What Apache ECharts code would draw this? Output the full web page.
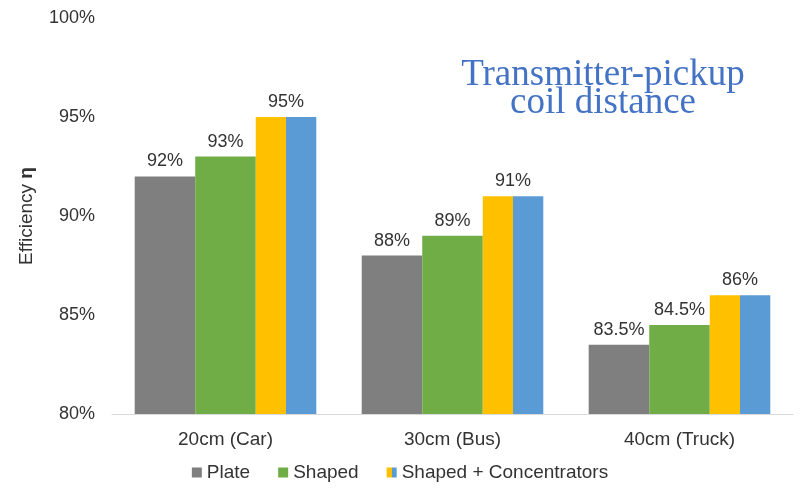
<!DOCTYPE html>
<html>
<head>
<meta charset="utf-8">
<script src="https://cdn.jsdelivr.net/npm/echarts@6/dist/echarts.min.js"></script>
<style>
  html, body { margin: 0; padding: 0; background: #fff; }
  #main { width: 800px; height: 496px; }
</style>
</head>
<body>
<div id="main"></div>
<script>
const categories = ['20cm (Car)', '30cm (Bus)', '40cm (Truck)'];
const seriesNames = ['Plate', 'Shaped', 'Shaped + Concentrators'];
const plate = [92, 88, 83.5];
const shaped = [93, 89, 84.5];
const concentrators = [95, 91, 86];

const chart = echarts.init(document.getElementById('main'));

// half yellow / half blue fill for the last series
const splitFill = new echarts.graphic.LinearGradient(0, 0, 1, 0, [
    { offset: 0, color: '#FFC000' },
    { offset: 0.5, color: '#FFC000' },
    { offset: 0.5, color: '#5B9BD5' },
    { offset: 1, color: '#5B9BD5' }
]);

const label = {
    show: true,
    position: 'top',
    distance: 6,
    color: '#333',
    fontSize: 18,
    fontFamily: 'Liberation Sans',
    formatter: p => p.value + '%'
};

chart.setOption({
    animation: false,
    textStyle: { fontFamily: 'Liberation Sans' },
    grid: { left: 112, right: 7, top: 18, bottom: 82 },
    graphic: [{
        type: 'text',
        x: 603,
        y: 61,
        style: {
            text: 'Transmitter-pickup\ncoil distance',
            fill: '#4472C4',
            font: '37px "Liberation Serif"',
            lineHeight: 28,
            align: 'center',
            verticalAlign: 'top'
        }
    }],
    legend: {
        data: seriesNames,
        bottom: 9,
        left: 'center',
        icon: 'rect',
        itemWidth: 10,
        itemHeight: 10,
        itemGap: 28,
        textStyle: { fontSize: 19, color: '#333' }
    },
    xAxis: {
        type: 'category',
        data: categories,
        axisLine: { lineStyle: { color: '#d9d9d9' } },
        axisTick: { show: false },
        axisLabel: { fontSize: 19, color: '#333', margin: 16 }
    },
    yAxis: {
        type: 'value',
        min: 80,
        max: 100,
        interval: 5,
        name: 'Efficiency {b|η}',
        nameLocation: 'middle',
        nameGap: 76,
        nameTextStyle: {
            fontSize: 19,
            color: '#333',
            rich: { b: { fontSize: 19, fontWeight: 'bold', color: '#333' } }
        },
        splitLine: { show: false },
        axisLine: { show: false },
        axisLabel: { fontSize: 18, color: '#333', margin: 17, formatter: '{value}%' }
    },
    series: [
        { name: seriesNames[0], type: 'bar', data: plate, barGap: '0%', barCategoryGap: '20%',
          itemStyle: { color: '#7F7F7F' }, label: label },
        { name: seriesNames[1], type: 'bar', data: shaped,
          itemStyle: { color: '#70AD47' }, label: label },
        { name: seriesNames[2], type: 'bar', data: concentrators,
          itemStyle: { color: splitFill }, label: label }
    ]
});
</script>
</body>
</html>
